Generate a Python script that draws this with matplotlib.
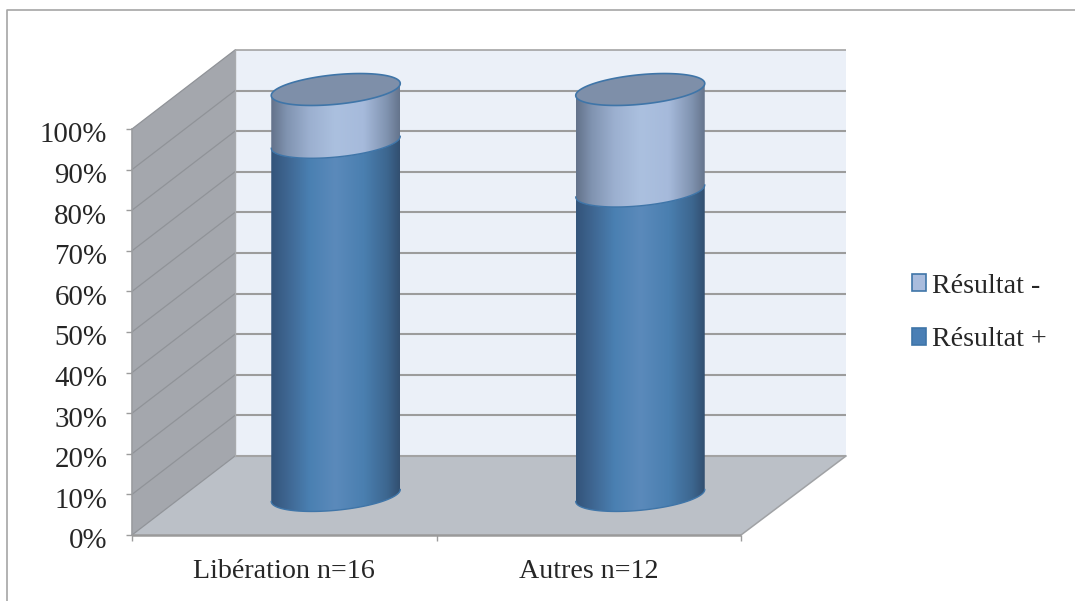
import numpy as np
import matplotlib
matplotlib.use("Agg")
import matplotlib.pyplot as plt
from matplotlib.colors import LinearSegmentedColormap
from matplotlib.lines import Line2D
from matplotlib.patches import Patch, PathPatch, Polygon
from matplotlib.path import Path
from matplotlib.transforms import ScaledTranslation

categories = ["Libération n=16", "Autres n=12"]
result_plus = [87.0, 75.0]
result_minus = [13.0, 25.0]
series_labels = ["Résultat +", "Résultat -"]
y_ticks = list(range(0, 101, 10))
y_tick_labels = [f"{v}%" for v in y_ticks]

plt.rcParams["font.family"] = ["Liberation Serif", "DejaVu Serif"]
TXT = "#262626"
GRID = "#9c9c9c"
FS_Y = 20.8
FS_X = 20.2

W, H = 1075, 601
fig = plt.figure(figsize=(W / 100, H / 100), dpi=100, facecolor="white")
ax = fig.add_axes([132 / W, 1 - 535 / H, 609 / W, 406 / H], facecolor="none")
ax.set_xlim(0, 2)
ax.set_ylim(0, 100)

# perspective offset of the back wall, in data units
DX, DY = 103 / 304.5, 79 / 4.06
DX_R = 105 / 304.5
# cylinder shape, in data units
A, SHEAR, B = 64.5 / 304.5, 6 / 4.06, 14.8 / 4.06

# walls and floor
ax.add_patch(Polygon([(DX, DY), (2 + DX_R, DY), (2 + DX_R, 100 + DY), (DX, 100 + DY)],
                     fc="#ebf0f8", ec="none", clip_on=False, zorder=1))
ax.add_patch(Polygon([(0, 0), (0, 100), (DX, 100 + DY), (DX, DY)],
                     fc="#a4a7ad", ec="none", clip_on=False, zorder=2))
ax.add_patch(Polygon([(0, 0), (2, 0), (2 + DX_R, DY), (DX, DY)],
                     fc="#bbc0c7", ec="none", clip_on=False, zorder=2))

for v in y_ticks:
    lw = 1.1 if v == 100 else 1.5
    ax.plot([DX, 2 + DX_R], [v + DY, v + DY], color=GRID if v else "#a3a3a3", lw=lw,
            clip_on=False, zorder=3, solid_capstyle="butt")
    ax.plot([0, DX], [v, v + DY], color="#909398", lw=0.9, clip_on=False, zorder=3)
ax.plot([DX, DX], [DY, 100 + DY], color="#a9abae", lw=1.0, clip_on=False, zorder=3)
ax.plot([2, 2 + DX_R], [0, DY], color="#a0a2a5", lw=1.1, clip_on=False, zorder=3)
ax.plot([0, 0], [0, 100], color="#9a9c9f", lw=1.2, clip_on=False, zorder=3)
ax.plot([0, 2], [0, 0], color="#9a9a9a", lw=1.8, clip_on=False, zorder=3,
        solid_capstyle="butt")

dark_cmap = LinearSegmentedColormap.from_list(
    "dark", [(0, "#33547a"), (0.12, "#3e6590"), (0.3, "#4a80b2"), (0.5, "#5b8abb"),
             (0.72, "#4a7fb0"), (0.9, "#3d6790"), (1, "#324f70")])
light_cmap = LinearSegmentedColormap.from_list(
    "light", [(0, "#63728a"), (0.12, "#8093b0"), (0.3, "#9cb0d0"), (0.5, "#abc0df"),
              (0.72, "#a6badb"), (0.9, "#8093b0"), (1, "#65748c")])
EDGE = "#3f75a8"
TH = np.linspace(0, np.pi, 80)


def arc(cx, v, th):
    return np.column_stack([cx + A * np.cos(th), v + DY / 2 + SHEAR * np.cos(th) - B * np.sin(th)])


def segment(cx, lo, hi, cmap):
    pts = np.vstack([arc(cx, lo, TH), arc(cx, hi, TH[::-1])])
    patch = PathPatch(Path(np.vstack([pts, pts[0]])), fc="none", ec="none",
                      transform=ax.transData, clip_on=False)
    ax.add_patch(patch)
    grad = np.linspace(0, 1, 256)[None, :]
    ymin, ymax = pts[:, 1].min(), pts[:, 1].max()
    im = ax.imshow(grad, cmap=cmap, aspect="auto", zorder=5, interpolation="bilinear",
                   extent=[cx - A, cx + A, ymin, ymax])
    im.set_clip_box(fig.bbox)
    im.set_clip_path(patch)
    b = arc(cx, lo, TH)
    ax.plot(b[:, 0], b[:, 1], color=EDGE, lw=1.0, clip_on=False, zorder=6)


for i, (plus, minus) in enumerate(zip(result_plus, result_minus)):
    cx = i + 0.5 + DX / 2
    segment(cx, 0, plus, dark_cmap)
    segment(cx, plus, plus + minus, light_cmap)
    th = np.linspace(0, 2 * np.pi, 160)
    top = arc(cx, plus + minus, th)
    ax.add_patch(Polygon(top, closed=True, fc="#7e8fa9", ec=EDGE, lw=1.2,
                         clip_on=False, zorder=7))

ax.set_xlim(0, 2)
ax.set_ylim(0, 100)

for s in ax.spines.values():
    s.set_visible(False)
ax.set_yticks(y_ticks, y_tick_labels, fontsize=FS_Y, color=TXT)
ax.set_xticks([0, 1, 2], ["", "", ""])
ax.set_xticks([0.5, 1.5], categories, minor=True, fontsize=FS_X, color=TXT)
ax.tick_params(axis="y", length=4.3, width=1.0, color="#9c9c9c", pad=13.5)
ax.tick_params(axis="x", which="major", length=4.3, width=1.0, color="#9c9c9c")
ax.tick_params(axis="x", which="minor", length=0, pad=17.5)
shift = ScaledTranslation(0, -3.5 / 72 * 100 / 100 * 72 / 100, fig.dpi_scale_trans)
for lab in ax.get_yticklabels():
    lab.set_transform(lab.get_transform() + shift)

handles = [Patch(fc="#a9bcdd", ec=EDGE, lw=1.2), Patch(fc="#4a7fb5", ec=EDGE, lw=1.2)]
fig.legend(handles, [series_labels[1], series_labels[0]], loc="upper left",
           bbox_to_anchor=(906.4 / W, 1 - 268 / H), frameon=False, prop={"size": FS_X},
           labelcolor=TXT, handlelength=0.5, handleheight=0.55, handletextpad=0.21,
           labelspacing=1.02, borderpad=0.2, borderaxespad=0)

# outer chart frame
fig.add_artist(Line2D([7 / W, 7 / W, 1], [0, 1 - 9.5 / H, 1 - 9.5 / H], color="#a6a6a6",
                      lw=1.2, transform=fig.transFigure))

fig.savefig("out.png", dpi=100)
